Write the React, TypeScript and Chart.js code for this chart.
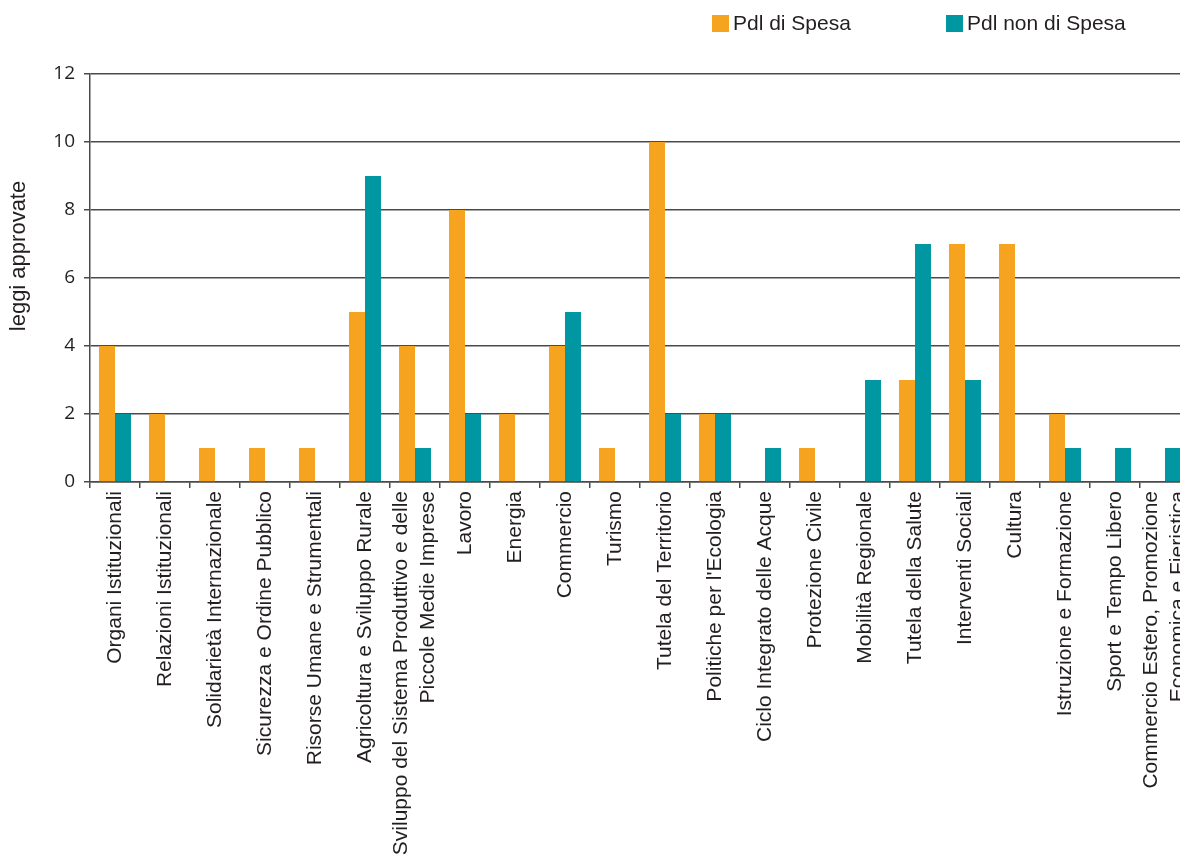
import React, { useEffect, useRef } from 'react';
import { Chart, registerables } from 'chart.js';

Chart.register(...registerables);

const categories: (string | string[])[] = [
  'Organi Istituzionali',
  'Relazioni Istituzionali',
  'Solidarietà Internazionale',
  'Sicurezza e Ordine Pubblico',
  'Risorse Umane e Strumentali',
  'Agricoltura e Sviluppo Rurale',
  ['Sviluppo del Sistema Produttivo e delle', 'Piccole Medie Imprese'],
  'Lavoro',
  'Energia',
  'Commercio',
  'Turismo',
  'Tutela del Territorio',
  "Politiche per l'Ecologia",
  'Ciclo Integrato delle Acque',
  'Protezione Civile',
  'Mobilità Regionale',
  'Tutela della Salute',
  'Interventi Sociali',
  'Cultura',
  'Istruzione e Formazione',
  'Sport e Tempo Libero',
  ['Commercio Estero, Promozione', 'Economica e Fieristica'],
];

const pdlSpesa = [4, 2, 1, 1, 1, 5, 4, 8, 2, 4, 1, 10, 2, 0, 1, 0, 3, 7, 7, 2, 0, 0];
const pdlNonSpesa = [2, 0, 0, 0, 0, 9, 1, 2, 0, 5, 0, 2, 2, 1, 0, 3, 7, 3, 0, 1, 1, 1];

const seriesNames = ['Pdl di Spesa', 'Pdl non di Spesa'];
const seriesColors = ['#F6A41F', '#0097A2'];
const yAxisTitle = 'leggi approvate';
const yMin = 0;
const yMax = 12;
const yStep = 2;

const TEXT = '#231F20';
const GRID = '#4A4A4A';
const LABEL_FONT = '"Liberation Sans", Arial, sans-serif';

export default function App() {
  const ref = useRef<HTMLCanvasElement>(null);

  useEffect(() => {
    const canvas = ref.current;
    if (!canvas) return;

    const extras = {
      id: 'extras',
      beforeDraw(chart: any) {
        // center multi-line rotated category labels on their tick
        const xs = chart.scales.x;
        const items = xs.getLabelItems(chart.chartArea);
        items.forEach((item: any) => {
          if (item.__shifted) return;
          item.__shifted = true;
          const lbl = item.label;
          if (Array.isArray(lbl) && lbl.length > 1) {
            const lh = item.font && item.font.lineHeight ? item.font.lineHeight : 27.3;
            item.options.translation[0] -= ((lbl.length - 1) * lh) / 2;
          }
        });
      },
      afterDraw(chart: any) {
        const ctx = chart.ctx as CanvasRenderingContext2D;
        ctx.save();
        // legend
        const legendX = [712, 946];
        ctx.font = '21px ' + LABEL_FONT;
        ctx.textBaseline = 'middle';
        ctx.textAlign = 'left';
        seriesNames.forEach((name, i) => {
          ctx.fillStyle = seriesColors[i];
          ctx.fillRect(legendX[i], 15, 17, 17);
          ctx.fillStyle = TEXT;
          ctx.fillText(name, legendX[i] + 21, 24);
        });
        // y axis title
        ctx.translate(19, 256);
        ctx.rotate(-Math.PI / 2);
        ctx.textAlign = 'center';
        ctx.font = '22px ' + LABEL_FONT;
        ctx.fillText(yAxisTitle, 0, 0);
        ctx.restore();
      },
    };

    const chart = new Chart(canvas, {
      type: 'bar',
      data: {
        labels: categories,
        datasets: seriesNames.map((name, i) => ({
          label: name,
          data: i === 0 ? pdlSpesa : pdlNonSpesa,
          backgroundColor: seriesColors[i],
          borderWidth: 0,
          categoryPercentage: 0.64,
          barPercentage: 1.0,
        })),
      },
      options: {
        responsive: false,
        animation: false,
        devicePixelRatio: 1,
        layout: { padding: { top: 74, right: 10, bottom: 0, left: 0 } },
        plugins: {
          legend: { display: false },
          tooltip: { enabled: false },
        },
        scales: {
          x: {
            offset: true,
            grid: {
              display: true,
              drawOnChartArea: false,
              drawTicks: true,
              tickLength: 6,
              color: GRID,
              lineWidth: 1.5,
              offset: true,
            },
            border: { display: true, color: GRID, width: 1.5 },
            ticks: {
              autoSkip: false,
              maxRotation: 90,
              minRotation: 90,
              padding: 3,
              color: TEXT,
              font: { family: LABEL_FONT, size: 21, lineHeight: 1.3 },
            },
            afterFit(scale: any) {
              scale.height = 900 - 482;
              scale.paddingLeft = 0;
              scale.paddingRight = 0;
            },
          },
          y: {
            min: yMin,
            max: yMax,
            ticks: {
              stepSize: yStep,
              padding: 9,
              color: TEXT,
              font: { family: '"Open Sans", sans-serif', size: 19 },
            },
            grid: {
              display: true,
              drawOnChartArea: true,
              drawTicks: true,
              tickLength: 6,
              color: GRID,
              lineWidth: 1.5,
            },
            border: { display: true, color: GRID, width: 1.5 },
            afterFit(scale: any) {
              scale.width = 90;
              scale.paddingTop = 0;
              scale.paddingBottom = 0;
            },
          },
        },
      },
      plugins: [extras],
    });

    return () => chart.destroy();
  }, []);

  return (
    <div
      style={{
        position: 'fixed',
        left: 0,
        top: 0,
        width: 1180,
        height: 859,
        overflow: 'hidden',
        background: '#fff',
      }}
    >
      <canvas ref={ref} width={1200} height={900} style={{ display: 'block', width: 1200, height: 900 }} />
    </div>
  );
}
